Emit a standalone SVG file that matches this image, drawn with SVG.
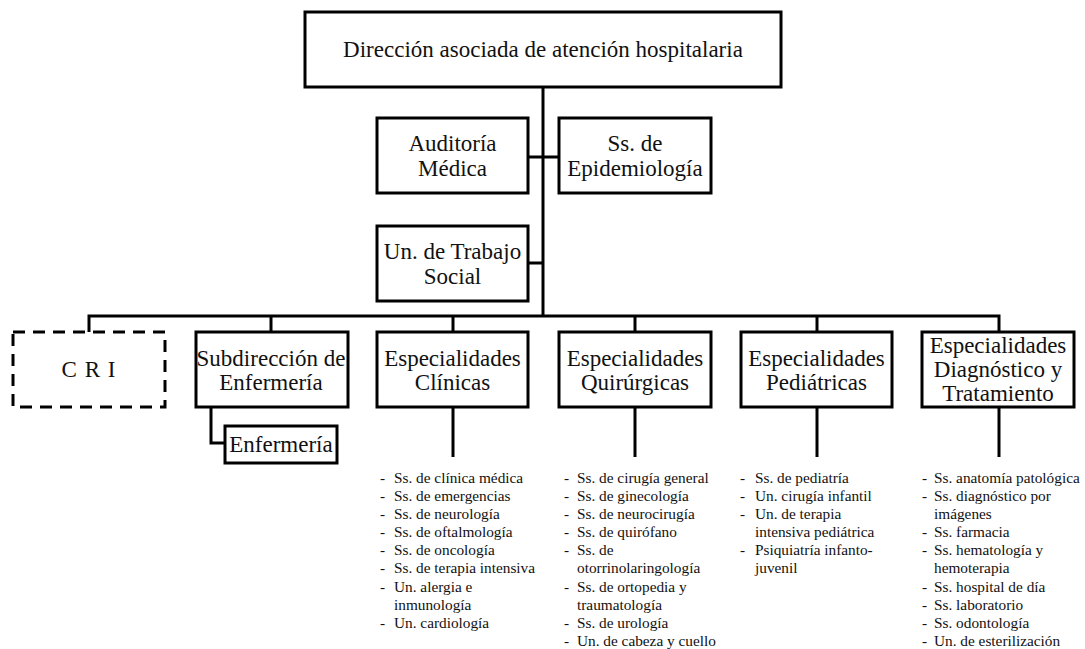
<svg xmlns="http://www.w3.org/2000/svg" width="1085" height="649" viewBox="0 0 1085 649">
<style>
.box{fill:#fff;stroke:#000;stroke-width:3}
.dash{fill:#fff;stroke:#000;stroke-width:3;stroke-dasharray:12 8}
.t{font-family:"Liberation Serif","Times New Roman",serif;font-size:23px;fill:#111;text-anchor:middle}
.l{font-family:"Liberation Serif","Times New Roman",serif;font-size:15.3px;fill:#111}
.c{fill:none;stroke:#000;stroke-width:3}
</style>
<g id="connectors">
<path class="c" d="M543 87V316" stroke-width="3.5"/>
<path class="c" d="M528 157H559M528 263H543"/>
<path class="c" d="M89 332V316H999V332M271 316V332M453 316V332M635 316V332M817 316V332"/>
<path class="c" d="M211 407V443H225"/>
<path class="c" d="M453 407V457M635 407V457M817 407V457M999 407V457"/>
</g>
<g id="n-direccion"><rect class="box" x="305" y="12" width="476" height="75"/><text class="t" x="543" y="57">Dirección asociada de atención hospitalaria</text></g>
<g id="n-auditoria"><rect class="box" x="377" y="118" width="151" height="75"/><text class="t" x="452.5" y="151">Auditoría</text><text class="t" x="452.5" y="176">Médica</text></g>
<g id="n-epidemiologia"><rect class="box" x="559" y="118" width="152" height="75"/><text class="t" x="635" y="151">Ss. de</text><text class="t" x="635" y="176">Epidemiología</text></g>
<g id="n-trabajo"><rect class="box" x="377" y="226" width="151" height="75"/><text class="t" x="452.5" y="259">Un. de Trabajo</text><text class="t" x="452.5" y="284">Social</text></g>
<g id="n-cri"><rect class="dash" x="13" y="332" width="152" height="75"/><text class="t" x="89" y="377" letter-spacing="1">C R I</text></g>
<g id="n-subdireccion"><rect class="box" x="196" y="332" width="152" height="75"/><text class="t" x="271" y="366">Subdirección de</text><text class="t" x="271" y="390">Enfermería</text></g>
<g id="n-enfermeria"><rect class="box" x="225" y="426" width="112" height="37"/><text class="t" x="281" y="452">Enfermería</text></g>
<g id="n-clinicas"><rect class="box" x="377" y="332" width="151" height="75"/><text class="t" x="452.5" y="366">Especialidades</text><text class="t" x="452.5" y="390">Clínicas</text></g>
<g id="n-quirurgicas"><rect class="box" x="559" y="332" width="152" height="75"/><text class="t" x="635" y="366">Especialidades</text><text class="t" x="635" y="390">Quirúrgicas</text></g>
<g id="n-pediatricas"><rect class="box" x="741" y="332" width="151" height="75"/><text class="t" x="816.5" y="366">Especialidades</text><text class="t" x="816.5" y="390">Pediátricas</text></g>
<g id="n-diagnostico"><rect class="box" x="922" y="332" width="152" height="75"/><text class="t" x="998" y="353">Especialidades</text><text class="t" x="998" y="377">Diagnóstico y</text><text class="t" x="998" y="401">Tratamiento</text></g>
<g id="list-clinicas" class="l">
<text x="380" y="483">-</text><text x="394" y="483">Ss. de clínica médica</text>
<text x="380" y="501">-</text><text x="394" y="501">Ss. de emergencias</text>
<text x="380" y="519">-</text><text x="394" y="519">Ss. de neurología</text>
<text x="380" y="537">-</text><text x="394" y="537">Ss. de oftalmología</text>
<text x="380" y="555">-</text><text x="394" y="555">Ss. de oncología</text>
<text x="380" y="573">-</text><text x="394" y="573">Ss. de terapia intensiva</text>
<text x="380" y="592">-</text><text x="394" y="592">Un. alergia e</text>
<text x="394" y="610">inmunología</text>
<text x="380" y="628">-</text><text x="394" y="628">Un. cardiología</text>
</g>
<g id="list-quirurgicas" class="l">
<text x="564" y="483">-</text><text x="577" y="483">Ss. de cirugía general</text>
<text x="564" y="501">-</text><text x="577" y="501">Ss. de ginecología</text>
<text x="564" y="519">-</text><text x="577" y="519">Ss. de neurocirugía</text>
<text x="564" y="537">-</text><text x="577" y="537">Ss. de quirófano</text>
<text x="564" y="555">-</text><text x="577" y="555">Ss. de</text>
<text x="577" y="573">otorrinolaringología</text>
<text x="564" y="592">-</text><text x="577" y="592">Ss. de ortopedia y</text>
<text x="577" y="610">traumatología</text>
<text x="564" y="628">-</text><text x="577" y="628">Ss. de urología</text>
<text x="564" y="646">-</text><text x="577" y="646">Un. de cabeza y cuello</text>
</g>
<g id="list-pediatricas" class="l">
<text x="740" y="483">-</text><text x="755" y="483">Ss. de pediatría</text>
<text x="740" y="501">-</text><text x="755" y="501">Un. cirugía infantil</text>
<text x="740" y="519">-</text><text x="755" y="519">Un. de terapia</text>
<text x="755" y="537">intensiva pediátrica</text>
<text x="740" y="555">-</text><text x="755" y="555">Psiquiatría infanto-</text>
<text x="755" y="573">juvenil</text>
</g>
<g id="list-diagnostico" class="l">
<text x="922" y="483">-</text><text x="934" y="483">Ss. anatomía patológica</text>
<text x="922" y="501">-</text><text x="934" y="501">Ss. diagnóstico por</text>
<text x="934" y="519">imágenes</text>
<text x="922" y="537">-</text><text x="934" y="537">Ss. farmacia</text>
<text x="922" y="555">-</text><text x="934" y="555">Ss. hematología y</text>
<text x="934" y="573">hemoterapia</text>
<text x="922" y="592">-</text><text x="934" y="592">Ss. hospital de día</text>
<text x="922" y="610">-</text><text x="934" y="610">Ss. laboratorio</text>
<text x="922" y="628">-</text><text x="934" y="628">Ss. odontología</text>
<text x="922" y="646">-</text><text x="934" y="646">Un. de esterilización</text>
</g>
</svg>
